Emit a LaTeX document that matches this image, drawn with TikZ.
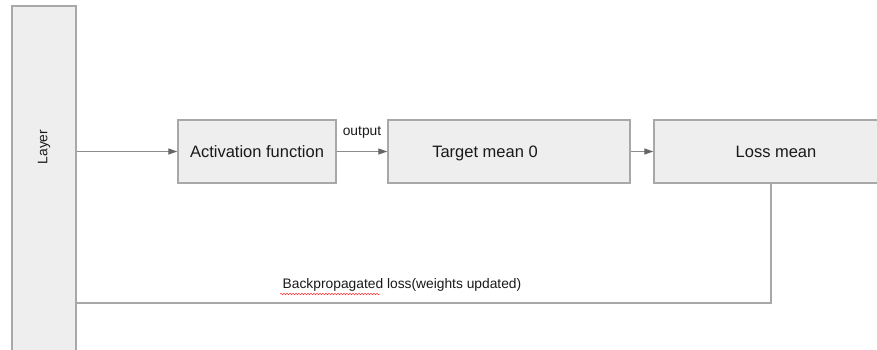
\documentclass[tikz,border=0pt]{standalone}
\usepackage{fontspec}
\setmainfont{Liberation Sans}
\usetikzlibrary{arrows.meta,decorations.pathmorphing}
\definecolor{boxfill}{HTML}{EEEEEE}
\definecolor{boxline}{HTML}{A8A8A8}
\definecolor{wire}{HTML}{8C8C8C}
\definecolor{tip}{HTML}{666666}
\begin{document}
\begin{tikzpicture}[x=1pt,y=-1pt,
  blk/.style={draw=boxline,fill=boxfill,line width=1.4pt,minimum height=63pt,inner sep=0pt,
    font=\fontsize{16.5}{20}\selectfont,text=black!90,text depth=0pt},
  wireto/.style={draw=wire,line width=1.2pt,-{Triangle[length=9pt,width=6pt,fill=tip,color=tip]}},
  small/.style={font=\fontsize{13.8}{16}\selectfont,text=black!90,inner sep=0pt}]
\useasboundingbox (0,0) rectangle (877,349);
\node[blk,minimum width=64pt,minimum height=354pt] (layer) at (44,183) {};
\node[small,rotate=90] at (44,147) {Layer};
\node[blk,minimum width=158pt] (act) at (257,151.5) {Activation function};
\node[blk,minimum width=242pt] (tm) at (509,151.5) {};
\node[blk,draw=none,fill=none] at (485,151.5) {Target mean 0};
\node[blk,minimum width=244pt] (lm) at (776,151.5) {Loss mean};
\draw[wireto] (layer.east |- act) -- (act.west);
\draw[wireto] (act.east) -- (tm.west);
\draw[wireto] (tm.east) -- (lm.west);
\node[small] (out) at (362,132) {output};
% feedback
\coordinate (bend) at (771,303);
\draw[draw=boxline,line width=1.4pt] (lm.south -| bend) -- (bend) -- (layer.east |- bend);
\node[small] (bp) at (402,285) {Backpropagated loss(weights updated)};
\draw[red!80,line width=0.5pt,decorate,decoration={snake,amplitude=0.8pt,segment length=3pt}]
  (280,294) -- (380,294);
\end{tikzpicture}
\end{document}
